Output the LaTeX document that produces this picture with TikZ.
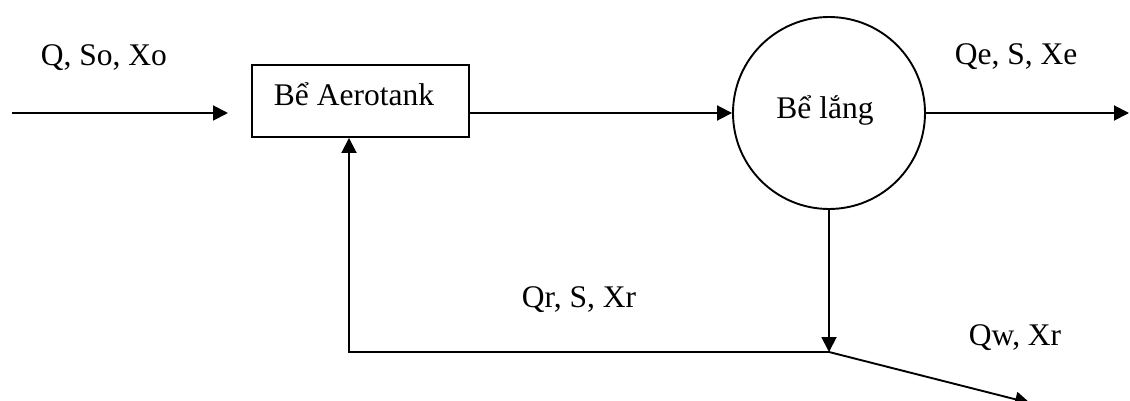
\documentclass[tikz,border=0pt]{standalone}
\usepackage{fontspec}
\setmainfont{Liberation Serif}
\usetikzlibrary{arrows.meta}
\begin{document}
\begin{tikzpicture}[x=1pt,y=-1pt,
  line width=1.9pt,
  flow/.style={-{Triangle[length=15pt,width=15pt]}},
  lbl/.style={anchor=base,inner sep=0pt,font=\fontsize{31.5}{36}\selectfont},
  tank/.style={draw,minimum width=217pt,minimum height=72pt,inner sep=0pt},
  settler/.style={draw,circle,minimum size=192pt,inner sep=0pt}]
\useasboundingbox (0,0) rectangle (1130,401);
\node[tank] (aero) at (360.5,101) {};
\node[settler] (lang) at (829,113) {};
\node[lbl] (taero) at (354,105.5) {Bể Aerotank};
\node[lbl] (tlang) at (825,119) {Bể lắng};
\node[lbl] (lin) at (104,66) {Q, So, Xo};
\node[lbl] (lout) at (1016,65) {Qe, S, Xe};
\node[lbl] (lrec) at (579,307) {Qr, S, Xr};
\node[lbl] (lwas) at (1015,345) {Qw, Xr};
\coordinate (in0) at (12,113);
\coordinate (in1) at (228,113);
\coordinate (out1) at (1129,113);
\coordinate (j) at (829,352);
\coordinate (fb) at (349,352);
\coordinate (w) at (1030,403);
\draw[flow] (in0) -- (in1);
\draw[flow] (aero.east |- lang.center) -- (lang.west);
\draw[flow] (lang.east) -- (out1);
\draw[flow] (lang.south) -- (j);
\draw[flow] (j) -- (fb) -- (fb |- aero.south);
\draw[flow] (j) -- (w);
\end{tikzpicture}
\end{document}
